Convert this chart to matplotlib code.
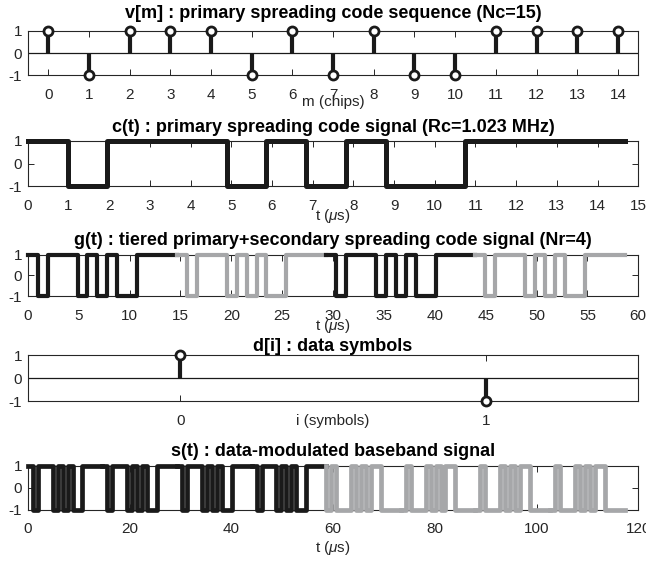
import numpy as np
import matplotlib
matplotlib.use('Agg')
import matplotlib.pyplot as plt

plt.rcParams['font.family'] = ['Liberation Sans', 'DejaVu Sans']
plt.rcParams['mathtext.fontset'] = 'custom'
plt.rcParams['mathtext.rm'] = 'Liberation Sans'
plt.rcParams['mathtext.it'] = 'Liberation Sans:italic'
plt.rcParams['axes.unicode_minus'] = False

# data
v = [1, -1, 1, 1, 1, -1, 1, -1, 1, -1, -1, 1, 1, 1, 1]   # primary code
sec = [1, 1, 1, 1]                                       # secondary code (Nr=4)
d = [1, -1]                                              # data symbols
Rc = 1.023                                               # chip rate, MHz

titles = ['v[m] : primary spreading code sequence (Nc=15)',
          'c(t) : primary spreading code signal (Rc=1.023 MHz)',
          'g(t) : tiered primary+secondary spreading code signal (Nr=4)',
          'd[i] : data symbols',
          's(t) : data-modulated baseband signal']
xlabels = ['m (chips)', r't ($\mu$s)', r't ($\mu$s)', 'i (symbols)', r't ($\mu$s)']

BLACK = '#1a1a1a'
GRAY = '#a6a7a9'
AXC = '#262626'

Nc = len(v)
Tc = 1 / Rc

fig = plt.figure(figsize=(6.46, 5.61), dpi=100)
L, W = 0.043, 0.945
rows = [(0.866, 0.945), (0.668, 0.749), (0.472, 0.546), (0.285, 0.367), (0.091, 0.170)]
axs = [fig.add_axes([L, b, W, t - b]) for b, t in rows]


def style(ax, xlim, xticks, title, xlabel, pad, tpad):
    ax.set_xlim(xlim)
    ax.set_ylim(-1, 1)
    ax.set_yticks([-1, 0, 1])
    ax.set_xticks(xticks)
    ax.tick_params(direction='in', top=True, right=True, labelsize=11,
                   colors=AXC, length=4, width=0.7)
    ax.tick_params(axis='x', pad=9)
    ax.tick_params(axis='y', pad=4)
    for s in ax.spines.values():
        s.set_color(AXC)
        s.set_linewidth(0.8)
    ax.set_title(title, fontsize=13, fontweight='bold', pad=tpad, color='black')
    ax.set_xlabel(xlabel, fontsize=11, labelpad=pad, color=AXC)


def stems(ax, x, y):
    ax.axhline(0, color=BLACK, lw=0.9, zorder=2)
    ax.vlines(x, 0, y, color=BLACK, lw=3.0, zorder=3, clip_on=False)
    ax.plot(x, y, 'o', ms=6.5, mfc='white', mec=BLACK, mew=2.0,
            zorder=4, clip_on=False)


def chips_line(ax, t0, prev, chips, color, lw):
    t = t0 + np.arange(len(chips) + 1) * Tc
    y = list(chips) + [chips[-1]]
    if prev is not None:
        t = np.concatenate([[t0], t])
        y = [prev] + y
    ax.plot(t, y, drawstyle='steps-post', color=color, lw=lw,
            clip_on=False, zorder=3)


# v[m]
ax = axs[0]
stems(ax, np.arange(Nc), v)
style(ax, (-0.5, 14.5), range(Nc), titles[0], xlabels[0], -5, 9)

# c(t)
ax = axs[1]
chips_line(ax, 0, None, v, BLACK, 3.6)
style(ax, (0, 15), range(16), titles[1], xlabels[1], -4, 6)

# g(t)
ax = axs[2]
prev = None
for k, s in enumerate(sec):
    ch = [s * c for c in v]
    chips_line(ax, k * Nc * Tc, prev, ch, BLACK if k % 2 == 0 else GRAY, 3.0)
    prev = ch[-1]
style(ax, (0, 60), range(0, 61, 5), titles[2], xlabels[2], -4, 7)

# d[i]
ax = axs[3]
stems(ax, np.arange(len(d)), d)
style(ax, (-0.5, 1.5), [0, 1], titles[3], xlabels[3], -10, 3)

# s(t)
ax = axs[4]
prev = None
for i, di in enumerate(d):
    for k, s in enumerate(sec):
        ch = [di * s * c for c in v]
        t0 = (i * len(sec) + k) * Nc * Tc
        chips_line(ax, t0, prev, ch, BLACK if i == 0 else GRAY, 3.4)
        prev = ch[-1]
style(ax, (0, 120), range(0, 121, 20), titles[4], xlabels[4], 2, 7)

fig.savefig('out.png', dpi=100)
